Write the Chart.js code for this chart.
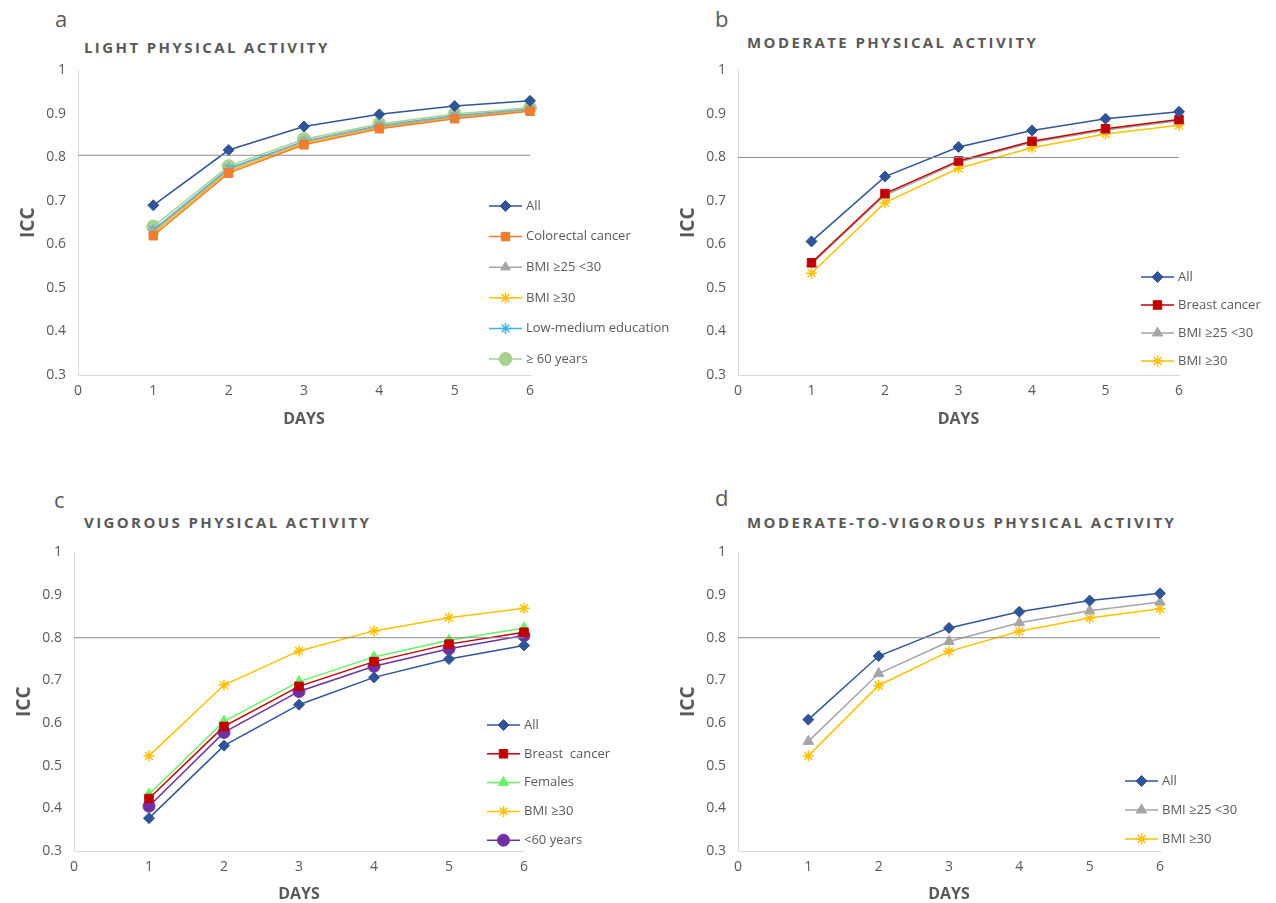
<!DOCTYPE html>
<html>
<head>
<meta charset="utf-8">
<script src="https://cdn.jsdelivr.net/npm/chart.js@4.4.1/dist/chart.umd.min.js"></script>
<style>
  body { margin: 0; width: 1276px; height: 903px; overflow: hidden; background: #fff;
         font-family: "Open Sans", sans-serif; color: #595959; position: relative; }
  canvas, .lbl, .ttl { position: absolute; }
  .lbl { font-size: 22px; line-height: 30px; }
  .ttl { font-size: 15px; line-height: 20px; font-weight: bold; letter-spacing: 2.4px; }
</style>
</head>
<body>
<div class="lbl" style="left:55px;top:3px">a</div>
<div class="ttl" style="left:84px;top:37px">LIGHT PHYSICAL ACTIVITY</div>
<div class="lbl" style="left:715px;top:3px">b</div>
<div class="ttl" style="left:747px;top:32px">MODERATE PHYSICAL ACTIVITY</div>
<div class="lbl" style="left:54px;top:484px">c</div>
<div class="ttl" style="left:84px;top:512px">VIGOROUS PHYSICAL ACTIVITY</div>
<div class="lbl" style="left:715px;top:482px">d</div>
<div class="ttl" style="left:747px;top:512px">MODERATE-TO-VIGOROUS PHYSICAL ACTIVITY</div>

<canvas id="chartA"></canvas>
<canvas id="chartB"></canvas>
<canvas id="chartC"></canvas>
<canvas id="chartD"></canvas>

<script>
// ---- data ----
const days = [1, 2, 3, 4, 5, 6];
const xTicks = [0, 1, 2, 3, 4, 5, 6];
const yTicks = [0.3, 0.4, 0.5, 0.6, 0.7, 0.8, 0.9, 1];
const yTickLabels = ['0.3', '0.4', '0.5', '0.6', '0.7', '0.8', '0.9', '1'];
const threshold = 0.8;
const thresholdA = 0.805;

// a: light physical activity
const lightAll        = [0.690, 0.817, 0.871, 0.899, 0.918, 0.930];
const lightColorectal = [0.620, 0.764, 0.829, 0.866, 0.889, 0.906];
const lightBmi25      = [0.630, 0.772, 0.836, 0.871, 0.894, 0.910];
const lightBmi30      = [0.625, 0.768, 0.832, 0.868, 0.891, 0.908];
const lightLowEdu     = [0.633, 0.775, 0.837, 0.873, 0.896, 0.911];
const light60         = [0.641, 0.780, 0.842, 0.877, 0.900, 0.914];

// b: moderate physical activity
const modAll    = [0.607, 0.756, 0.824, 0.862, 0.889, 0.905];
const modBreast = [0.558, 0.717, 0.792, 0.837, 0.866, 0.887];
const modBmi25  = [0.555, 0.713, 0.789, 0.834, 0.863, 0.884];
const modBmi30  = [0.534, 0.696, 0.775, 0.822, 0.854, 0.874];

// c: vigorous physical activity
const vigAll     = [0.377, 0.547, 0.643, 0.707, 0.750, 0.782];
const vigBreast  = [0.423, 0.592, 0.686, 0.744, 0.785, 0.813];
const vigFemales = [0.433, 0.604, 0.697, 0.755, 0.794, 0.823];
const vigBmi30   = [0.523, 0.689, 0.769, 0.816, 0.847, 0.869];
const vigUnder60 = [0.405, 0.578, 0.674, 0.733, 0.774, 0.805];

// d: moderate-to-vigorous physical activity
const mvpaAll   = [0.608, 0.757, 0.823, 0.861, 0.887, 0.904];
const mvpaBmi25 = [0.557, 0.716, 0.791, 0.835, 0.863, 0.884];
const mvpaBmi30 = [0.523, 0.688, 0.768, 0.815, 0.846, 0.868];

// ---- styles ----
const BLUE = '#2F5597', ORANGE = '#ED7D31', GRAY = '#A5A5A5', YELLOW = '#FFC000',
      CYAN = '#3DB5E6', LGREEN = '#A9D18E', RED = '#C00000', GREEN = '#66F266', PURPLE = '#7030A0';

function series(label, values, color, style, radius) {
  return {
    label: label,
    data: days.map((d, i) => ({ x: d, y: values[i] })),
    borderColor: color,
    backgroundColor: color,
    borderWidth: 1.5,
    pointStyle: style,
    pointRadius: radius,
    pointBorderWidth: style === 'star' ? 1.5 : 1,
    pointBorderColor: color,
    pointBackgroundColor: color,
    clip: false,
    tension: 0
  };
}

function refLine(value) {
  return {
    label: '_ref',
    data: [{ x: 0, y: value }, { x: 6, y: value }],
    borderColor: '#8C8C8C',
    borderWidth: 1,
    pointRadius: 0,
    clip: false,
    tension: 0
  };
}

// legend drawn inside the plot, like the original
const legendPlugin = {
  id: 'boxLegend',
  afterDraw(chart, args, opts) {
    const ctx = chart.ctx;
    ctx.save();
    ctx.font = '13px "Open Sans", sans-serif';
    ctx.textBaseline = 'middle';
    ctx.textAlign = 'left';
    let row = 0;
    chart.data.datasets.forEach(ds => {
      if (ds.label === '_ref') return;
      const y = opts.y + row * opts.dy;
      const x = opts.x;
      ctx.strokeStyle = ds.borderColor;
      ctx.lineWidth = 1.5;
      ctx.beginPath();
      ctx.moveTo(x, y);
      ctx.lineTo(x + 33, y);
      ctx.stroke();
      ctx.fillStyle = ds.backgroundColor;
      ctx.strokeStyle = ds.borderColor;
      ctx.lineWidth = ds.pointBorderWidth;
      Chart.helpers.drawPoint(ctx, { pointStyle: ds.pointStyle, radius: ds.pointRadius, rotation: 0, borderWidth: ds.pointBorderWidth }, x + 16.5, y);
      ctx.fillStyle = '#595959';
      ctx.fillText(ds.label, x + 37, y);
      row++;
    });
    ctx.restore();
  }
};

function makePanel(id, box, datasets, legendPos) {
  const cv = document.getElementById(id);
  cv.width = box.w;
  cv.height = box.h;
  cv.style.left = box.left + 'px';
  cv.style.top = box.top + 'px';
  return new Chart(cv, {
    type: 'line',
    data: { datasets: datasets },
    plugins: [legendPlugin],
    options: {
      responsive: false,
      animation: false,
      layout: { padding: { top: 17, right: box.padRight, left: 0, bottom: 0 } },
      plugins: {
        legend: { display: false },
        tooltip: { enabled: false },
        boxLegend: { x: legendPos.x - box.left, y: legendPos.y - box.top, dy: legendPos.dy }
      },
      scales: {
        x: {
          type: 'linear', min: 0, max: 6,
          afterBuildTicks: s => { s.ticks = xTicks.map(v => ({ value: v })); },
          afterFit: s => { s.height = box.xh; },
          grid: { display: false, drawTicks: false },
          border: { display: true, color: '#D9D9D9', width: 1 },
          ticks: { color: '#595959', font: { size: 14, family: '"Open Sans", sans-serif' }, padding: 8 },
          title: { display: true, text: 'DAYS', color: '#595959', padding: 4,
                   font: { size: 16, weight: 'bold', family: '"Open Sans", sans-serif' } }
        },
        y: {
          type: 'linear', min: 0.3, max: 1,
          afterBuildTicks: s => { s.ticks = yTicks.map(v => ({ value: v })); },
          afterFit: s => { s.width = 65; },
          grid: { display: false, drawTicks: false },
          border: { display: true, color: '#D9D9D9', width: 1 },
          ticks: { color: '#595959', font: { size: 14, family: '"Open Sans", sans-serif' }, padding: 12,
                   callback: v => yTickLabels[yTicks.indexOf(v)] },
          title: { display: true, text: 'ICC', color: '#595959', padding: 4,
                   font: { size: 19, weight: 'bold', family: '"Open Sans", sans-serif' } }
        }
      }
    }
  });
}

makePanel('chartA', { left: 13, top: 50, w: 667, h: 383, padRight: 150, xh: 58 }, [
  refLine(thresholdA),
  series('All', lightAll, BLUE, 'rectRot', 5.5),
  series('Colorectal cancer', lightColorectal, ORANGE, 'rect', 6),
  series('BMI ≥25 <30', lightBmi25, GRAY, 'triangle', 5.5),
  series('BMI ≥30', lightBmi30, YELLOW, 'star', 5.5),
  series('Low-medium education', lightLowEdu, CYAN, 'star', 5.5),
  series('≥ 60 years', light60, LGREEN, 'circle', 6.5)
], { x: 489, y: 206, dy: 30.6 });

makePanel('chartB', { left: 673, top: 50, w: 603, h: 383, padRight: 97, xh: 58 }, [
  refLine(threshold),
  series('All', modAll, BLUE, 'rectRot', 5.5),
  series('Breast cancer', modBreast, RED, 'rect', 6),
  series('BMI ≥25 <30', modBmi25, GRAY, 'triangle', 6),
  series('BMI ≥30', modBmi30, YELLOW, 'star', 5.5)
], { x: 1141, y: 277, dy: 28 });

makePanel('chartC', { left: 9, top: 532, w: 631, h: 376, padRight: 116, xh: 57 }, [
  refLine(threshold),
  series('All', vigAll, BLUE, 'rectRot', 5.5),
  series('Breast  cancer', vigBreast, RED, 'rect', 6),
  series('Females', vigFemales, GREEN, 'triangle', 6),
  series('BMI ≥30', vigBmi30, YELLOW, 'star', 5.5),
  series('<60 years', vigUnder60, PURPLE, 'circle', 6)
], { x: 487, y: 725, dy: 28.8 });

makePanel('chartD', { left: 673, top: 532, w: 603, h: 376, padRight: 116, xh: 57 }, [
  refLine(threshold),
  series('All', mvpaAll, BLUE, 'rectRot', 5.5),
  series('BMI ≥25 <30', mvpaBmi25, GRAY, 'triangle', 6),
  series('BMI ≥30', mvpaBmi30, YELLOW, 'star', 5.5)
], { x: 1125, y: 781, dy: 29 });
</script>
</body>
</html>
